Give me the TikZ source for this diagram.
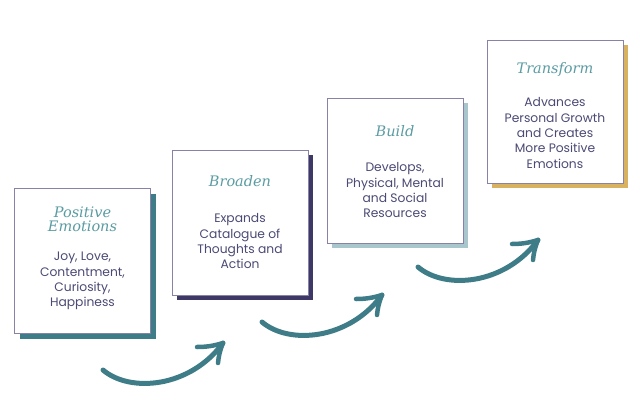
\documentclass[tikz,border=0pt]{standalone}
\usepackage{fontspec}
\setmainfont{Poppins}
\newfontfamily\ttlfont{DejaVu Serif}
\usetikzlibrary{positioning,shadows}
\definecolor{ink}{HTML}{4B4A75}
\definecolor{ttlc}{HTML}{5B9CA3}
\definecolor{edge}{HTML}{8782A6}
\definecolor{teal1}{HTML}{3E7D88}
\definecolor{plum}{HTML}{3E3866}
\definecolor{mist}{HTML}{A8C6CC}
\definecolor{gold}{HTML}{D8B25E}
\tikzset{
	card/.style={draw=edge,line width=0.8pt,fill=white,minimum width=136pt,minimum height=145pt,inner sep=0pt,
		drop shadow={shadow xshift=5pt,shadow yshift=-5pt,fill=#1,opacity=1}},
	ttl/.style={font=\ttlfont\itshape\fontsize{14.5}{14}\selectfont,text=ttlc,align=center,inner sep=0pt},
	txt/.style={font=\fontsize{12.3}{15.3}\selectfont,text=ink,align=center,inner sep=0pt,anchor=north},
	swoosh/.style={draw=teal1,line width=5pt,line cap=round,line join=round},
}
\begin{document}
\begin{tikzpicture}[x=1pt,y=-1pt]
	\useasboundingbox (0,0) rectangle (640,402);
	% cards
	\node[card=teal1] (emo) at (82.5,261) {};
	\node[card=plum] (brd) at (240,222.5) {};
	\node[card=mist] (bld) at (395,170.5) {};
	\node[card=gold,minimum height=143pt] (trf) at (555,111.5) {};
	% titles
	\node[ttl] (emo-t) at ([yshift=-31pt]emo.north) {Positive\\Emotions};
	\node[ttl] (brd-t) at ([yshift=-31pt]brd.north) {Broaden};
	\node[ttl] (bld-t) at ([yshift=-33pt]bld.north) {Build};
	\node[ttl] (trf-t) at ([yshift=-30pt]trf.north) {Transform};
	% texts
	\node[txt] (emo-x) at ([yshift=-64pt]emo.north) {Joy, Love,\\Contentment,\\Curiosity,\\Happiness};
	\node[txt] (brd-x) at ([yshift=-64pt]brd.north) {Expands\\Catalogue of\\Thoughts and\\Action};
	\node[txt] (bld-x) at ([yshift=-65pt]bld.north) {Develops,\\Physical, Mental\\and Social\\Resources};
	\node[txt] (trf-x) at ([yshift=-58pt]trf.north) {Advances\\Personal Growth\\and Creates\\More Positive\\Emotions};
	% swooshes
	\foreach \dx/\dy/\n in {0/0/1,159/-48/2,315/-103/3}{
		\coordinate (s\n) at (103+\dx,370+\dy);
		\coordinate (e\n) at (223+\dx,343+\dy);
		\draw[swoosh] (s\n) .. controls ++(27,23) and ([shift={(-33,45)}]e\n) .. (e\n);
		\draw[swoosh,line width=4.5pt] (e\n) to[bend left=8] ++(-26,4) (e\n) to[bend right=8] ++(-5,20);
	}
\end{tikzpicture}
\end{document}
